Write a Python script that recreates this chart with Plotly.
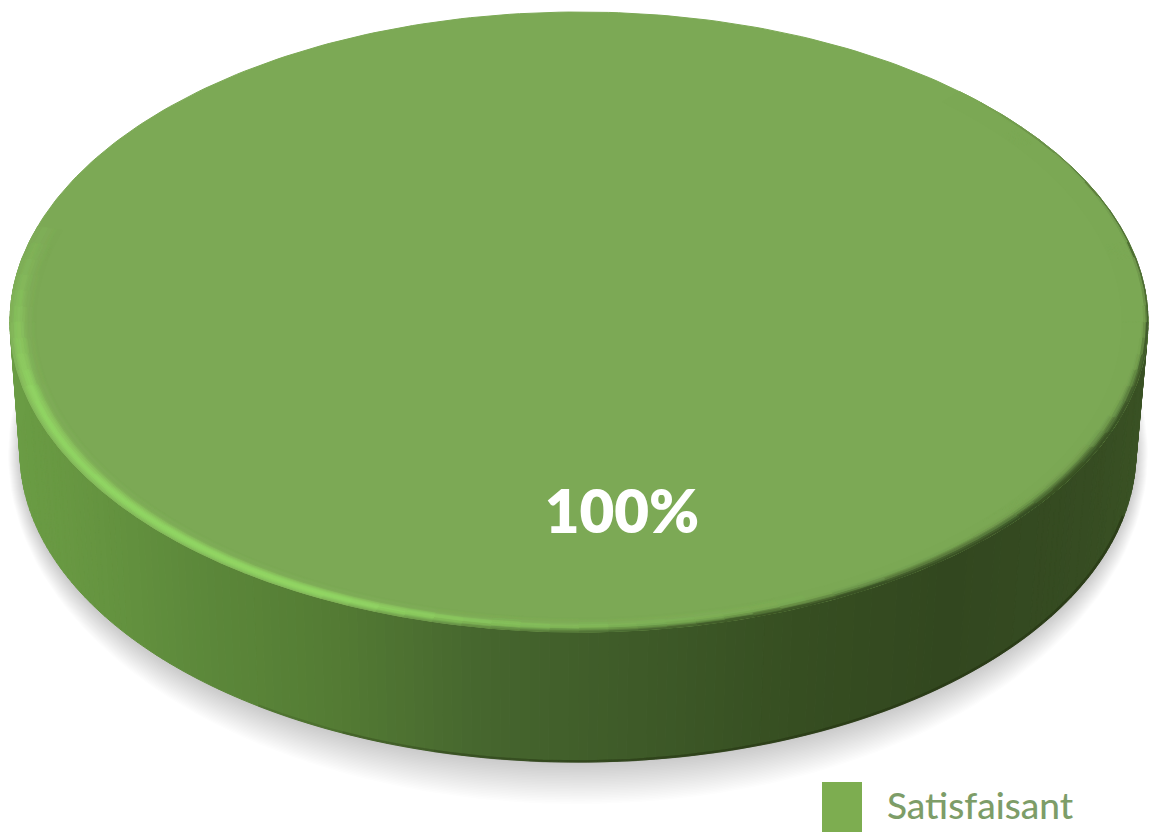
import numpy as np
import plotly.graph_objects as go

# Chart data
categories = ["Satisfaisant"]
values = [100]
slice_colors = ["#7ca955"]
swatch_color = "#7dad50"

# Disc geometry, in page pixels
TOP = dict(cx=579, cy=322, a=569, b=310)
BASE = dict(cx=578, cy=452, a=558, b=310)

WALL_X = [10, 60, 200, 330, 480, 640, 800, 950, 1090, 1150]
WALL_RGB = [
    (106, 156, 68), (104, 152, 66), (92, 136, 58), (84, 124, 52), (70, 102, 46),
    (62, 90, 40), (54, 78, 33), (50, 71, 31), (54, 76, 34), (58, 82, 36),
]


def hexcol(rgb):
    return "#%02x%02x%02x" % tuple(int(round(c)) for c in rgb)


def rgb_of(h):
    return tuple(int(h[i:i + 2], 16) for i in (1, 3, 5))


def mix(p, q, t):
    return tuple(p[i] + (q[i] - p[i]) * t for i in range(3))


def ring_point(e, phi, scale=1.0):
    return e["cx"] + e["a"] * scale * np.cos(phi), e["cy"] + e["b"] * scale * np.sin(phi)


fig = go.Figure()
total = sum(values)

# Soft drop shadow under the disc
shadow_angles = np.linspace(0, 2 * np.pi, 181)
for k in range(26):
    grow = 40 - k * 1.6
    fig.add_trace(go.Scatter(
        x=BASE["cx"] + (BASE["a"] + grow * 0.3) * np.cos(shadow_angles),
        y=BASE["cy"] + (BASE["b"] + grow) * np.sin(shadow_angles) + 2,
        mode="lines", fill="toself", fillcolor="rgba(110,110,110,0.011)",
        line=dict(width=0), hoverinfo="skip", showlegend=False,
    ))

# Side wall, shaded across its width; the slice angles come from the values
start = 0.0
for name, value, color in zip(categories, values, slice_colors):
    sweep = 2 * np.pi * value / total
    steps = np.linspace(start, start + sweep, 361)

    wall_groups = {}
    for p0, p1 in zip(steps[:-1], steps[1:]):
        if np.sin((p0 + p1) / 2) < -0.2:
            continue
        x0t, y0t = ring_point(TOP, p0)
        x1t, y1t = ring_point(TOP, p1)
        x0b, y0b = ring_point(BASE, p0)
        x1b, y1b = ring_point(BASE, p1)
        mid = (x0t + x1t) / 2
        shade = tuple(np.interp(mid, WALL_X, [c[i] for c in WALL_RGB]) for i in range(3))
        key = hexcol(shade)
        wall_groups.setdefault(key, []).append(
            ([x0t, x1t, x1b, x0b, x0t, None], [y0t, y1t, y1b, y0b, y0t, None]))
    for key, polys in wall_groups.items():
        fig.add_trace(go.Scatter(
            x=[v for poly in polys for v in poly[0]],
            y=[v for poly in polys for v in poly[1]],
            mode="lines", fill="toself", fillcolor=key, line=dict(color=key, width=1),
            hoverinfo="skip", showlegend=False,
        ))

    # Darker line along the foot of the wall, fading out towards the left
    for end_deg in (95, 105, 115, 125):
        foot = np.radians(np.linspace(12, end_deg, 120))
        fx, fy = ring_point(BASE, foot, 0.9985)
        fig.add_trace(go.Scatter(x=fx, y=fy, mode="lines", line=dict(color="rgba(35,50,20,0.16)", width=2.5),
                                 hoverinfo="skip", showlegend=False))

    # Flat top face
    tx, ty = ring_point(TOP, steps)
    fig.add_trace(go.Scatter(x=tx, y=ty, mode="lines", fill="toself", fillcolor=color,
                             line=dict(color=color, width=1), hoverinfo="skip", showlegend=False))

    # Bevel round the rim: a bright edge at the lower left, a dark one at the right
    base_rgb = rgb_of(color)
    bright = (146, 214, 100)
    dark = (50, 72, 31)
    bands = np.linspace(1.0, 0.955, 19)
    rim_groups = {}
    rim_steps = np.radians(np.arange(-48, 201, 3))
    for s0, s1 in zip(bands[:-1], bands[1:]):
        u = ((1.0 - s0) + (1.0 - s1)) / 2 / 0.045
        for p0, p1 in zip(rim_steps[:-1], rim_steps[1:]):
            deg = np.degrees((p0 + p1) / 2)
            glow = np.interp(deg, [60, 85, 110, 165, 200], [0.0, 0.45, 1.0, 0.95, 0.0])
            glow_prof = np.exp(-((u - 0.32) / 0.3) ** 2)
            shadow = np.interp(deg, [-48, -20, 30, 70, 90, 105, 118], [0.0, 0.7, 0.95, 0.9, 0.6, 0.3, 0.0])
            spread = np.interp(deg, [-48, -5, 25, 120], [0.04, 0.07, 0.32, 0.26])
            shadow_prof = np.exp(-(u / spread) ** 2)
            c = mix(base_rgb, bright, glow * glow_prof)
            c = mix(c, dark, shadow * shadow_prof)
            c = tuple(round(v / 3) * 3 for v in c)
            key = hexcol(c)
            ax, ay = ring_point(TOP, p0, s0)
            bx, by = ring_point(TOP, p1, s0)
            cx_, cy_ = ring_point(TOP, p1, s1)
            dx, dy = ring_point(TOP, p0, s1)
            rim_groups.setdefault(key, []).append(([ax, bx, cx_, dx, ax, None], [ay, by, cy_, dy, ay, None]))
    for key, polys in rim_groups.items():
        fig.add_trace(go.Scatter(
            x=[v for poly in polys for v in poly[0]],
            y=[v for poly in polys for v in poly[1]],
            mode="lines", fill="toself", fillcolor=key, line=dict(color=key, width=1),
            hoverinfo="skip", showlegend=False,
        ))

    # Percentage label on the top face
    fig.add_trace(go.Scatter(
        x=[622], y=[518], mode="text", text=[f"{100 * value / total:.0f}%"],
        textposition="middle center",
        textfont=dict(family="Lato, sans-serif", size=60, color="#ffffff", weight=800),
        hoverinfo="skip", showlegend=False,
    ))

    # Legend label; its swatch is a layout rectangle that runs off the page bottom
    fig.add_trace(go.Scatter(
        x=[887], y=[810], mode="text", text=[name], textposition="middle right",
        textfont=dict(family="Lato, sans-serif", size=37, color="#7d9d68", weight=500),
        hoverinfo="skip", showlegend=False,
    ))
    fig.add_shape(type="rect", x0=822, x1=862, y0=782, y1=832, fillcolor=swatch_color,
                  line=dict(width=0), layer="above")
    start += sweep

axis = dict(visible=False, fixedrange=True)
fig.update_layout(
    width=1150, height=832, margin=dict(l=0, r=0, t=0, b=0),
    paper_bgcolor="#ffffff", plot_bgcolor="#ffffff", showlegend=False,
    xaxis=dict(range=[0, 1150], **axis),
    yaxis=dict(range=[832, 0], **axis),
)
fig.write_html("out.html", config=dict(displayModeBar=False))
